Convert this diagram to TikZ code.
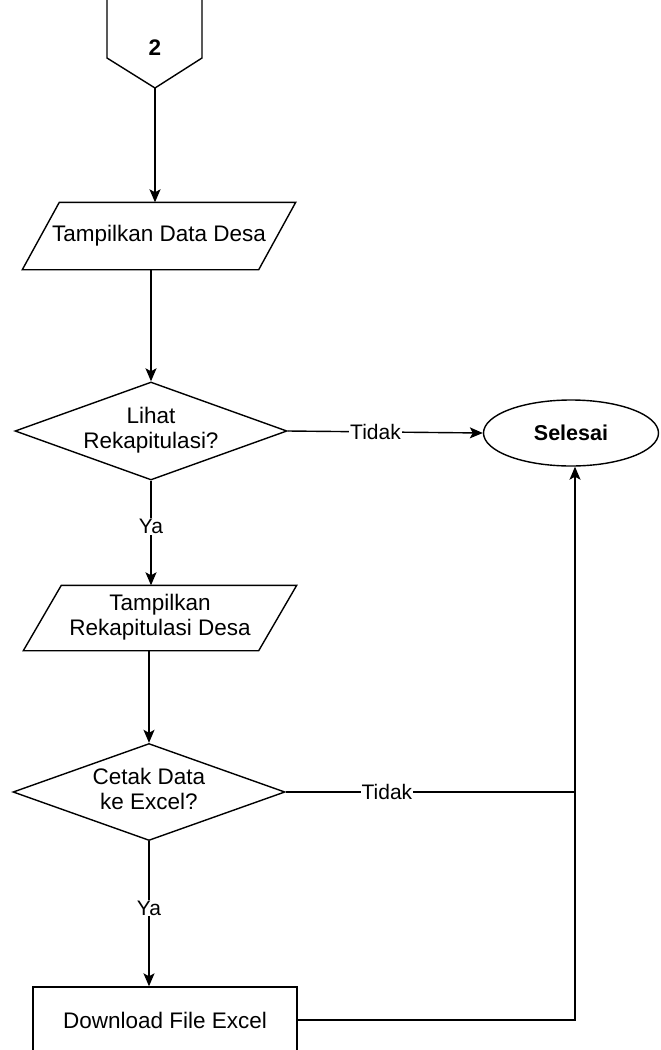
\documentclass[tikz,border=0pt]{standalone}
\usepackage{fontspec}
\setmainfont{Liberation Sans}
\usetikzlibrary{shapes.geometric,arrows.meta,calc}
\newcommand{\zt}[1]{\makebox[0pt]{\begin{tabular}{@{}c@{}}#1\end{tabular}}}
\begin{document}
\begin{tikzpicture}[x=1pt,y=-1pt,line width=1.4pt,
  every node/.style={font=\fontsize{22.5}{25}\selectfont,inner sep=0pt},
  arr/.style={-{Stealth[length=13pt,width=11pt,inset=3pt]}},
  lbl/.style={fill=white,inner sep=1pt,font=\fontsize{21}{24}\selectfont},
  parabox/.style={rectangle,minimum width=272pt},
  dec/.style={draw,diamond,minimum width=272pt,minimum height=98pt},
  endbox/.style={draw,ellipse,minimum width=175pt,minimum height=66pt},
  procbox/.style={draw,rectangle,minimum width=264pt,minimum height=66pt}]
\fill[white] (0,0) rectangle (661,1050);
\useasboundingbox (0,0) rectangle (661,1050);
% off-page connector
\draw (107,-5) -- (107,58) -- (155,88) -- (202,58) -- (202,-5);
\node (two) at (155,48) {\bfseries 2};
\coordinate (offtip) at (155,88);
% nodes
\node[parabox,minimum height=66pt] (par1) at (159,236) {\zt{Tampilkan Data Desa}};
\draw ($(par1.north west)+(37,0)$) -- (par1.north east) -- ($(par1.south east)+(-37,0)$) -- (par1.south west) -- cycle;
\node[dec] (d1) at (151,431) {\zt{Lihat\\Rekapitulasi?}};
\node[endbox,font=\fontsize{21.5}{24}\selectfont\bfseries] (sel) at (571,433) {Selesai};
\node[parabox,minimum height=64pt] (par2) at (160,618) {\zt{Tampilkan\\Rekapitulasi Desa}};
\draw ($(par2.north west)+(38,0)$) -- (par2.north east) -- ($(par2.south east)+(-38,0)$) -- (par2.south west) -- cycle;
\node[dec,minimum height=97pt] (d2) at (149,792) {\zt{Cetak Data\\ke Excel?}};
\node[procbox] (dl) at (165,1020) {Download File Excel};
\coordinate (j) at (575,792);
% connectors
\draw[arr] (offtip) -- (offtip |- par1.north);
\draw[arr] (d1.north |- par1.south) -- (d1.north);
\draw[arr] (d1.east) -- node[lbl,pos=0.45] {Tidak} (sel.west);
\draw[arr] (d1.south) -- node[lbl,pos=0.44] {Ya} (d1.south |- par2.north);
\draw[arr] (d2.north |- par2.south) -- (d2.north);
\draw[arr] (d2.south) -- node[lbl,pos=0.46] {Ya} (d2.south |- dl.north);
\draw (d2.east) -- node[lbl,pos=0.35] {Tidak} (j);
\draw[arr] (dl.east) -| (j |- sel.south);
\end{tikzpicture}
\end{document}
